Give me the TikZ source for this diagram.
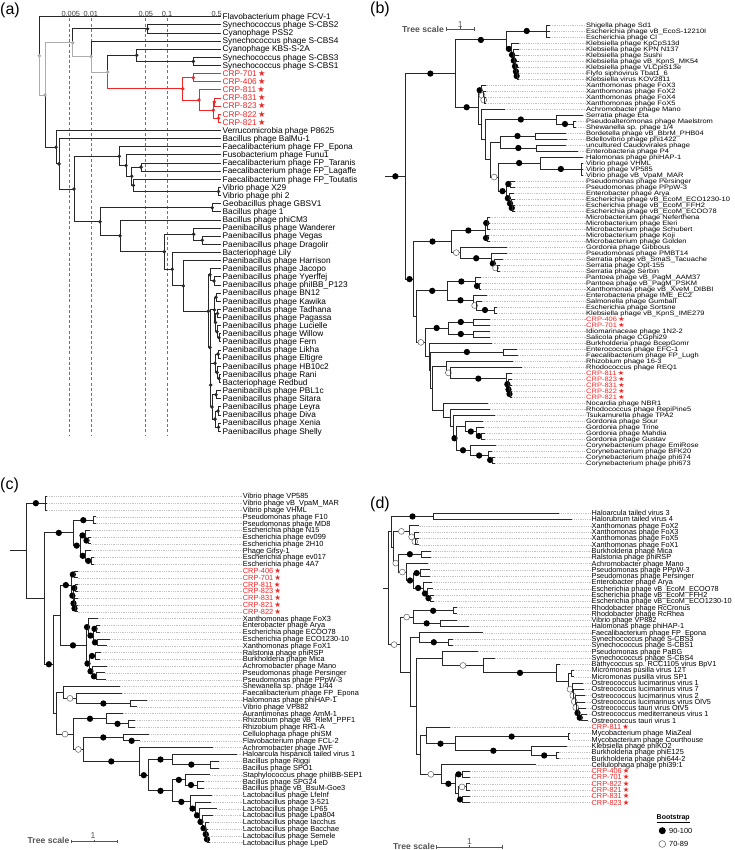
\documentclass[tikz,border=0pt]{standalone}
\usepackage{fontspec}
\usepackage{graphicx}
\setmainfont{Liberation Sans}
\newfontfamily\symf{DejaVu Sans}
\usetikzlibrary{calc}
\definecolor{cline}{RGB}{40,40,40}
\definecolor{cgray}{RGB}{172,172,172}
\definecolor{cred}{RGB}{240,38,38}
\definecolor{clead}{RGB}{195,195,195}
\definecolor{copen}{RGB}{105,105,105}
\definecolor{cts}{RGB}{85,85,85}
\definecolor{cdash}{RGB}{115,115,115}
\newcommand\crp[1]{\textcolor{cred}{CRP-#1\hspace{0.15em}{\symf\char"2605}}}
\newcommand\labwrap[1]{#1}
\newcommand\Kids[3]{\foreach \kk in {#3}{\draw[#1] (#2) |- (\kk);}}
\newcommand\Bt[2]{\Kids{brl}{#1}{#2}}
\newcommand\Bf[2]{\draw[brl] (#1) |- (#2);\node[fm] (m#2) at ($(#1 |- #2)!0.5!(#2)$) {};}
\newcommand\Bo[2]{\draw[brl] (#1) |- (#2);\node[om] (m#2) at ($(#1 |- #2)!0.5!(#2)$) {};}
\newcommand\T[4]{\coordinate (#1) at (#2,#3);\node[lab] (l#1) at (\labx,#3) {\labwrap{#4}};\draw[lead] (#1) -- (l#1.west);}
\newcommand\TA[2]{\coordinate (a#1) at (220.5,#1);\node[lab] (la#1) at (222.5,#1) {#2};}
\tikzset{
 brl/.style={draw=cline,line width=0.9pt},
 ak/.style={draw=cline,line width=0.9pt},
 ag/.style={draw=cgray,line width=0.9pt},
 ar/.style={draw=cred,line width=0.9pt},
 amk/.style={circle,inner sep=0pt,minimum size=3.8pt,draw=none},
 fm/.style={circle,inner sep=0pt,minimum size=6.3pt,fill=black,draw=none},
 om/.style={circle,inner sep=0pt,minimum size=5.9pt,fill=white,draw=copen,line width=0.55pt},
 lead/.style={draw=clead,line width=0.45pt,dash pattern=on 0.9pt off 0.9pt},
 plab/.style={anchor=west,inner sep=0pt,font=\fontsize{16}{16}\selectfont},
 tsl/.style={anchor=east,inner sep=0pt,text=cts,font=\bfseries\fontsize{8.6}{8.6}\selectfont},
 tsb/.style={draw=cts,line width=0.7pt},
 tsn/.style={inner sep=0pt,text=cts,font=\fontsize{8.6}{8.6}\selectfont},
 axl/.style={inner sep=0pt,text=black!75,font=\fontsize{7.4}{7.4}\selectfont},
 dashl/.style={draw=cdash,line width=0.8pt,dash pattern=on 3pt off 2.2pt},
}
\begin{document}
\begin{tikzpicture}[x=1pt,y=-1pt]
\useasboundingbox (0,0) rectangle (735,850);
\fill[white] (0,0) rectangle (735,850);
\node[plab] (pa) at (0,10) {(a)};
\node[plab] (pb) at (370,9.5) {(b)};
\node[plab] (pc) at (0,485.5) {(c)};
\node[plab] (pd) at (370,504) {(d)};

%================ (a)
\foreach \xx/\nm in {69.3/d1,91.7/d2,145/d3,167.3/d4}{\draw[dashl] (\xx,18.5) -- (\xx,436);}
\node[axl] (ax1) at (70.8,13.8) {0.005};
\node[axl] (ax2) at (90.8,13.8) {0.01};
\node[axl] (ax3) at (145.8,13.8) {0.05};
\node[axl] (ax4) at (167,13.8) {0.1};
\node[axl] (ax5) at (216.7,13.8) {0.5};
\begin{scope}[shift={(0,8.57)},y={(0pt,-8.13pt)},lab/.style={anchor=west,inner sep=0pt,font=\fontsize{8.3}{8.3}\selectfont,text height=5.6pt,text depth=0.1pt}]
\TA{1}{Flavobacterium phage FCV-1}
\TA{2}{Synechococcus phage S-CBS2}
\TA{3}{Cyanophage PSS2}
\TA{4}{Synechococcus phage S-CBS4}
\TA{5}{Cyanophage KBS-S-2A}
\TA{6}{Synechococcus phage S-CBS3}
\TA{7}{Synechococcus phage S-CBS1}
\TA{8}{\crp{701}}
\TA{9}{\crp{406}}
\TA{10}{\crp{811}}
\TA{11}{\crp{831}}
\TA{12}{\crp{823}}
\TA{13}{\crp{822}}
\TA{14}{\crp{821}}
\TA{15}{Verrucomicrobia phage P8625}
\TA{16}{Bacillus phage BalMu-1}
\TA{17}{Faecalibacterium phage FP\_Epona}
\TA{18}{Fusobacterium phage Funu1}
\TA{19}{Faecalibacterium phage FP\_Taranis}
\TA{20}{Faecalibacterium phage FP\_Lagaffe}
\TA{21}{Faecalibacterium phage FP\_Toutatis}
\TA{22}{Vibrio phage X29}
\TA{23}{Vibrio phage phi 2}
\TA{24}{Geobacillus phage GBSV1}
\TA{25}{Bacillus phage 1}
\TA{26}{Bacillus phage phiCM3}
\TA{27}{Paenibacillus phage Wanderer}
\TA{28}{Paenibacillus phage Vegas}
\TA{29}{Paenibacillus phage Dragolir}
\TA{30}{Bacteriophage Lily}
\TA{31}{Paenibacillus phage Harrison}
\TA{32}{Paenibacillus phage Jacopo}
\TA{33}{Paenibacillus phage Yyerffej}
\TA{34}{Paenibacillus phage phiIBB\_P123}
\TA{35}{Paenibacillus phage BN12}
\TA{36}{Paenibacillus phage Kawika}
\TA{37}{Paenibacillus phage Tadhana}
\TA{38}{Paenibacillus phage Pagassa}
\TA{39}{Paenibacillus phage Lucielle}
\TA{40}{Paenibacillus phage Willow}
\TA{41}{Paenibacillus phage Fern}
\TA{42}{Paenibacillus phage Likha}
\TA{43}{Paenibacillus phage Eltigre}
\TA{44}{Paenibacillus phage HB10c2}
\TA{45}{Paenibacillus phage Rani}
\TA{46}{Bacteriophage Redbud}
\TA{47}{Paenibacillus phage PBL1c}
\TA{48}{Paenibacillus phage Sitara}
\TA{49}{Paenibacillus phage Leyra}
\TA{50}{Paenibacillus phage Diva}
\TA{51}{Paenibacillus phage Xenia}
\TA{52}{Paenibacillus phage Shelly}
\coordinate (aR0) at (39.3,5.81);
\coordinate (aA1) at (45,10.63);
\coordinate (aC) at (72.7,4.203);
\coordinate (aC1) at (147.7,2.5);
\coordinate (aC2) at (91,5.906);
\coordinate (aC3) at (107.7,7.8125);
\coordinate (aC4) at (136.7,5.75);
\coordinate (aC5) at (193.3,6.5);
\coordinate (aRED) at (182.7,9.875);
\coordinate (aR1) at (193.3,8.5);
\coordinate (aR2) at (199,11.25);
\coordinate (aR3) at (213.3,12.5);
\coordinate (aR4) at (214.3,11.5);
\coordinate (aR5) at (218.5,13.5);
\coordinate (aL) at (56,17.05);
\coordinate (aL2) at (59,19.1);
\coordinate (aL3) at (74,22.19);
\coordinate (aF) at (119.3,18.16);
\coordinate (aF2) at (126,19.31);
\coordinate (aF3) at (131.7,20.625);
\coordinate (aFt) at (141,19.5);
\coordinate (aF5) at (133.3,21.75);
\coordinate (aFv) at (218.5,22.5);
\coordinate (aG) at (100,26.23);
\coordinate (aGeo) at (212.3,24.5);
\coordinate (aG2) at (120,27.95);
\coordinate (aG3) at (164.3,29.9);
\coordinate (aG4) at (193.7,27.75);
\coordinate (aG4b) at (202.3,28.5);
\coordinate (aG5) at (172.3,32.06);
\coordinate (aG6) at (183.3,34.11);
\coordinate (aG7) at (208.3,37.22);
\coordinate (aP1) at (210,32.75);
\coordinate (aP1a) at (214,33.5);
\coordinate (aP2) at (210,41.69);
\coordinate (aP2a) at (214.3,37.06);
\coordinate (aQ1) at (216,35.5);
\coordinate (aQ2) at (215.5,38.625);
\coordinate (aQ3) at (217.5,37.5);
\coordinate (aQ4) at (217,39.75);
\coordinate (aQ5) at (219,40.5);
\coordinate (aP2b) at (210.7,46.31);
\coordinate (aQ6) at (215,43.625);
\coordinate (aQ6a) at (218,42.5);
\coordinate (aQ6b) at (217,44.75);
\coordinate (aQ6c) at (219,45.5);
\coordinate (aQ7) at (212,49);
\coordinate (aQ7a) at (216,47.5);
\coordinate (aQ7b) at (215,50.5);
\coordinate (aQ7c) at (218,49.5);
\coordinate (aQ7d) at (218.5,51.5);
\Kids{ak}{aR0}{a1}
\Kids{ag}{aR0}{aA1}
\Kids{ak}{aA1}{aL}
\Kids{ag}{aA1}{aC}
\Kids{ak}{aC}{aC1}
\Kids{ak}{aC1}{a2,a3}
\Kids{ag}{aC}{aC2}
\Kids{ak}{aC2}{a4}
\Kids{ag}{aC2}{aC3}
\Kids{ak}{aC3}{aC4}
\Kids{ak}{aC4}{a5,aC5}
\Kids{ak}{aC5}{a6,a7}
\Kids{ar}{aC3}{aRED}
\Kids{ar}{aRED}{aR1,aR2}
\Kids{ar}{aR1}{a8,a9}
\Kids{ar}{aR2}{a10,aR3}
\Kids{ar}{aR3}{aR4,aR5}
\Kids{ar}{aR4}{a11,a12}
\Kids{ar}{aR5}{a13,a14}
\Kids{ak}{aL}{a15,aL2}
\Kids{ak}{aL2}{a16,aL3}
\Kids{ak}{aL3}{aF,aG}
\Kids{ak}{aF}{a17,aF2}
\Kids{ak}{aF2}{a18,aF3}
\Kids{ak}{aF3}{aFt,aF5}
\Kids{ak}{aFt}{a19,a20}
\Kids{ak}{aF5}{a21,aFv}
\Kids{ak}{aFv}{a22,a23}
\Kids{ak}{aG}{aGeo,aG2}
\Kids{ak}{aGeo}{a24,a25}
\Kids{ak}{aG2}{a26,aG3}
\Kids{ak}{aG3}{aG4,aG5}
\Kids{ak}{aG4}{a27,aG4b}
\Kids{ak}{aG4b}{a28,a29}
\Kids{ak}{aG5}{a30,aG6}
\Kids{ak}{aG6}{a31,aG7}
\Kids{ak}{aG7}{aP1,aP2}
\Kids{ak}{aP1}{a32,aP1a}
\Kids{ak}{aP1a}{a33,a34}
\Kids{ak}{aP2}{aP2a,aP2b}
\Kids{ak}{aP2a}{aQ1,aQ2}
\Kids{ak}{aQ1}{a35,a36}
\Kids{ak}{aQ2}{aQ3,aQ4}
\Kids{ak}{aQ3}{a37,a38}
\Kids{ak}{aQ4}{a39,aQ5}
\Kids{ak}{aQ5}{a40,a41}
\Kids{ak}{aP2b}{aQ6,aQ7}
\Kids{ak}{aQ6}{aQ6a,aQ6b}
\Kids{ak}{aQ6a}{a42,a43}
\Kids{ak}{aQ6b}{a44,aQ6c}
\Kids{ak}{aQ6c}{a45,a46}
\Kids{ak}{aQ7}{aQ7a,aQ7b}
\Kids{ak}{aQ7a}{a47,a48}
\Kids{ak}{aQ7b}{aQ7c,aQ7d}
\Kids{ak}{aQ7c}{a49,a50}
\Kids{ak}{aQ7d}{a51,a52}
\foreach \n in {aR0,aA1,aC,aC2,aC3}{\node[amk,fill=cgray] (m\n) at (\n) {};}
\foreach \n in {aRED,aR1,aR2,aR3,aR4,aR5}{\node[amk,fill=cred] (m\n) at (\n) {};}
\foreach \n in {aC1,aC4,aC5,aL,aL2,aL3,aF,aF2,aF3,aFt,aF5,aFv,aG,aGeo,aG2,aG3,aG4,aG4b,aG5,aG6,aG7,aP1,aP1a,aP2,aP2a,aQ1,aQ2,aQ3,aQ4,aQ5,aP2b,aQ6,aQ6a,aQ6b,aQ6c,aQ7,aQ7a,aQ7b,aQ7c,aQ7d}{\node[amk,fill=cline] (m\n) at (\n) {};}
\end{scope}

%================ (b)
\node[tsl] (tsb) at (444,29) {Tree scale};
\coordinate (tsb1) at (446.5,29.3); \coordinate (tsb2) at (474,29.3);
\draw[tsb] (tsb1) -- (tsb2);
\draw[tsb] ($(tsb1)+(0,-1.8)$) -- ($(tsb1)+(0,1.8)$) ($(tsb2)+(0,-1.8)$) -- ($(tsb2)+(0,1.8)$) ($(tsb1)!0.5!(tsb2)+(0,-1.8)$) -- ($(tsb1)!0.5!(tsb2)$);
\node[tsn] (tsbn) at (460.3,24.5) {1};
\begin{scope}[shift={(0,19)},y={(0pt,-6pt)},lab/.style={anchor=west,inner sep=0pt,font=\fontsize{7.5}{7.5}\selectfont,text height=4.6pt,text depth=0.1pt}]
\def\labx{586}
\renewcommand\labwrap[1]{\scalebox{1}[0.85]{#1}}
\T{b1}{550}{1}{Shigella phage Sd1}
\T{b2}{550}{2}{Escherichia phage vB\_EcoS-12210I}
\T{b3}{550}{3}{Escherichia phage Cl}
\T{b4}{518.5}{4}{Klebsiella phage KpCpS13d}
\T{b5}{518.5}{5}{Klebsiella phage KPN N137}
\T{b6}{518.5}{6}{Klebsiella phage Sushi}
\T{b7}{518.5}{7}{Klebsiella phage vB\_KpnS\_MK54}
\T{b8}{518.5}{8}{Klebsiella phage VLCpiS13e}
\T{b9}{518.5}{9}{Flyfo siphovirus Tbat1\_6}
\T{b10}{518.5}{10}{Klebsiella virus KOV2811}
\T{b11}{485.5}{11}{Xanthomonas phage FoX3}
\T{b12}{485.5}{12}{Xanthomonas phage FoX2}
\T{b13}{486}{13}{Xanthomonas phage FoX4}
\T{b14}{486}{14}{Xanthomonas phage FoX5}
\T{b15}{505}{15}{Achromobacter phage Mano}
\T{b16}{583.3}{16}{Serratia phage Eta}
\T{b17}{576}{17}{Pseudoalteromonas phage Maelstrom}
\T{b18}{576}{18}{Shewanella sp. phage 1/4}
\T{b19}{566}{19}{Bordetella phage vB\_BbrM\_PHB04}
\T{b20}{567}{20}{Bdellovibrio phage phi1422}
\T{b21}{566}{21}{uncultured Caudovirales phage}
\T{b22}{578}{22}{Enterobacteria phage P4}
\T{b23}{583.3}{23}{Halomonas phage phiHAP-1}
\T{b24}{583.3}{24}{Vibrio phage VHML}
\T{b25}{583.3}{25}{Vibrio phage VP585}
\T{b26}{583.3}{26}{Vibrio phage vB\_VpaM\_MAR}
\T{b27}{515}{27}{Pseudomonas phage Persinger}
\T{b28}{515}{28}{Pseudomonas phage PPpW-3}
\T{b29}{514}{29}{Enterobacter phage Arya}
\T{b30}{515}{30}{Escherichia phage vB\_EcoM\_ECO1230-10}
\T{b31}{515}{31}{Escherichia phage vB\_EcoM\_FFH2}
\T{b32}{515}{32}{Escherichia phage vB\_EcoM\_ECOO78}
\T{b33}{490}{33}{Microbacterium phage Neferthena}
\T{b34}{490}{34}{Microbacterium phage Eleri}
\T{b35}{490}{35}{Microbacterium phage Schubert}
\T{b36}{489}{36}{Microbacterium phage Koji}
\T{b37}{490}{37}{Microbacterium phage Golden}
\T{b38}{506.7}{38}{Gordonia phage Gibbous}
\T{b39}{506.7}{39}{Pseudomonas phage PMBT14}
\T{b40}{503}{40}{Serratia phage vB\_SmaS\_Tacuache}
\T{b41}{500}{41}{Serratia phage Opt-155}
\T{b42}{500}{42}{Serratia phage Serbin}
\T{b43}{481}{43}{Pantoea phage vB\_PagM\_AAM37}
\T{b44}{481}{44}{Pantoea phage vB\_PagM\_PSKM}
\T{b45}{481}{45}{Xanthomonas phage vB\_XveM\_DIBBI}
\T{b46}{487}{46}{Enterobacteria phage IME\_EC2}
\T{b47}{482}{47}{Salmonella phage Gumball}
\T{b48}{497}{48}{Escherichia phage Sortsne}
\T{b49}{497}{49}{Klebsiella phage vB\_KpnS\_IME279}
\T{b50}{490}{50}{\crp{406}}
\T{b51}{490}{51}{\crp{701}}
\T{b52}{490}{52}{Idiomarinaceae phage 1N2-2}
\T{b53}{490}{53}{Salicola phage CGphi29}
\T{b54}{491.7}{54}{Burkholderia phage BcepGomr}
\T{b55}{517}{55}{Enterococcus phage EFC-1}
\T{b56}{518}{56}{Faecalibacterium phage FP\_Lugh}
\T{b57}{513.3}{57}{Rhizobium phage 16-3}
\T{b58}{521.7}{58}{Rhodococcus phage REQ1}
\T{b59}{512}{59}{\crp{811}}
\T{b60}{512}{60}{\crp{823}}
\T{b61}{512}{61}{\crp{831}}
\T{b62}{512}{62}{\crp{822}}
\T{b63}{512}{63}{\crp{821}}
\T{b64}{488.3}{64}{Nocardia phage NBR1}
\T{b65}{490}{65}{Rhodococcus phage RepiPine5}
\T{b66}{495}{66}{Tsukamurella phage TPA2}
\T{b67}{483}{67}{Gordonia phage Sour}
\T{b68}{484}{68}{Gordonia phage Trine}
\T{b69}{485}{69}{Gordonia phage Mahdia}
\T{b70}{485}{70}{Gordonia phage Gustav}
\T{b71}{496}{71}{Corynebacterium phage EmiRose}
\T{b72}{492}{72}{Corynebacterium phage BFK20}
\T{b73}{495}{73}{Corynebacterium phage phi674}
\T{b74}{495}{74}{Corynebacterium phage phi673}
\coordinate (bRs) at (385,26.22);
\coordinate (bR) at (405.7,26.22);
\coordinate (bB1) at (455,9.10);
\coordinate (bB2) at (506.7,3.49);
\coordinate (bS) at (546.7,2);
\coordinate (bK) at (511,4.984);
\coordinate (bK1) at (513,5.969);
\coordinate (bK2) at (514.5,6.9375);
\coordinate (bK3) at (515.5,7.875);
\coordinate (bK4) at (516.3,8.75);
\coordinate (bK5) at (517,9.5);
\coordinate (bB3) at (478.3,14.71);
\coordinate (bX) at (481,11.875);
\coordinate (bX1) at (483,12.75);
\coordinate (bX2) at (484.3,13.5);
\coordinate (bB3c) at (481.5,17.54);
\coordinate (bB3b) at (485,20.09);
\coordinate (bSe0) at (556.7,16.75);
\coordinate (bSe1) at (573.3,17.5);
\coordinate (bB3d) at (490,23.42);
\coordinate (bD) at (500,20.5);
\coordinate (bDa) at (535,19.5);
\coordinate (bDb) at (536.7,21.5);
\coordinate (bB3e) at (498.3,26.34);
\coordinate (bV) at (540,24);
\coordinate (bVv) at (581.7,25);
\coordinate (bE) at (506.7,28.69);
\coordinate (bE1) at (510,27.5);
\coordinate (bE2) at (509,29.875);
\coordinate (bE3) at (511,30.75);
\coordinate (bE4) at (512.5,31.5);
\coordinate (bB4) at (413.3,43.35);
\coordinate (bM) at (451.7,37.09);
\coordinate (bMi) at (485,35.25);
\coordinate (bMi1) at (487.5,34);
\coordinate (bMi2) at (487,36.5);
\coordinate (bG2) at (460.7,38.94);
\coordinate (bG3) at (491.7,39.875);
\coordinate (bSr) at (494,40.75);
\coordinate (bSr1) at (497,41.5);
\coordinate (bB6) at (416.7,49.6);
\coordinate (bP) at (447.7,45.31);
\coordinate (bPa) at (475,43.75);
\coordinate (bPa1) at (479,44.5);
\coordinate (bPb) at (473.3,46.875);
\coordinate (bPb1) at (476,47.75);
\coordinate (bPb2) at (494,48.5);
\coordinate (bC) at (425,53.89);
\coordinate (bCr) at (448.3,51.5);
\coordinate (bCRa) at (473.3,50.5);
\coordinate (bCRb) at (473.3,52.5);
\coordinate (bC2) at (429.3,56.28);
\coordinate (bC3) at (430.5,58.55);
\coordinate (bEF) at (503.3,55.5);
\coordinate (bC3b) at (432,61.61);
\coordinate (bC4) at (446.7,57.98);
\coordinate (bC5) at (450,58.97);
\coordinate (bCRP) at (506.7,59.94);
\coordinate (bCR1) at (508,60.875);
\coordinate (bCR2) at (509,61.75);
\coordinate (bCR3) at (510,62.5);
\coordinate (bL) at (443.3,65.23);
\coordinate (bL1) at (450,66.47);
\coordinate (bL2) at (453,67.94);
\coordinate (bL3) at (456,69.875);
\coordinate (bGo) at (465,67.875);
\coordinate (bGo1) at (476.7,68.75);
\coordinate (bGo2) at (481,69.5);
\coordinate (bCo) at (470,71.875);
\coordinate (bCo1) at (488.3,72.75);
\coordinate (bCo2) at (492,73.5);
\Bf{bRs}{bR}
\Bf{bR}{bB1} \Bf{bR}{bB4}
\Bf{bB1}{bB2} \Bf{bB1}{bB3}
\Bf{bB2}{bS} \Bt{bS}{b1,b2,b3}
\Bf{bB2}{bK} \Bt{bK}{b4} \Bf{bK}{bK1} \Bt{bK1}{b5} \Bf{bK1}{bK2} \Bt{bK2}{b6} \Bf{bK2}{bK3} \Bt{bK3}{b7} \Bf{bK3}{bK4} \Bt{bK4}{b8} \Bf{bK4}{bK5} \Bt{bK5}{b9,b10}
\Bf{bB3}{bX} \Bt{bX}{b11} \Bo{bX}{bX1} \Bt{bX1}{b12} \Bo{bX1}{bX2} \Bt{bX2}{b13,b14}
\Bt{bB3}{bB3c} \Bt{bB3c}{b15,bB3b}
\Bf{bB3b}{bSe0} \Bt{bSe0}{b16} \Bf{bSe0}{bSe1} \Bt{bSe1}{b17,b18}
\Bt{bB3b}{bB3d} \Bt{bB3d}{bD} \Bf{bD}{bDa} \Bt{bDa}{b19,b20} \Bf{bD}{bDb} \Bt{bDb}{b21,b22}
\Bo{bB3d}{bB3e} \Bf{bB3e}{bV} \Bt{bV}{b23} \Bf{bV}{bVv} \Bt{bVv}{b24,b25,b26}
\Bf{bB3e}{bE} \Bf{bE}{bE1} \Bt{bE1}{b27,b28} \Bf{bE}{bE2} \Bt{bE2}{b29} \Bf{bE2}{bE3} \Bt{bE3}{b30} \Bf{bE3}{bE4} \Bt{bE4}{b31,b32}
\Bf{bB4}{bM} \Bf{bM}{bMi} \Bf{bMi}{bMi1} \Bt{bMi1}{b33,b34,b35} \Bf{bMi}{bMi2} \Bt{bMi2}{b36,b37}
\Bo{bM}{bG2} \Bt{bG2}{b38} \Bf{bG2}{bG3} \Bt{bG3}{b39} \Bf{bG3}{bSr} \Bt{bSr}{b40} \Bo{bSr}{bSr1} \Bt{bSr1}{b41,b42}
\Bt{bB4}{bB6} \Bf{bB6}{bP} \Bf{bP}{bPa} \Bt{bPa}{b43} \Bf{bPa}{bPa1} \Bt{bPa1}{b44,b45}
\Bf{bP}{bPb} \Bt{bPb}{b46} \Bo{bPb}{bPb1} \Bt{bPb1}{b47} \Bf{bPb1}{bPb2} \Bt{bPb2}{b48,b49}
\Bo{bB6}{bC} \Bf{bC}{bCr} \Bf{bCr}{bCRa} \Bt{bCRa}{b50,b51} \Bf{bCr}{bCRb} \Bt{bCRb}{b52,b53}
\Bt{bC}{bC2} \Bt{bC2}{b54,bC3} \Bf{bC3}{bEF} \Bt{bEF}{b55,b56} \Bt{bC3}{bC3b} \Bt{bC3b}{bC4} \Bt{bC4}{b57} \Bo{bC4}{bC5} \Bt{bC5}{b58}
\Bf{bC5}{bCRP} \Bt{bCRP}{b59} \Bf{bCRP}{bCR1} \Bt{bCR1}{b60} \Bf{bCR1}{bCR2} \Bt{bCR2}{b61} \Bf{bCR2}{bCR3} \Bt{bCR3}{b62,b63}
\Bt{bC3b}{bL} \Bt{bL}{b64,bL1} \Bt{bL1}{b65,bL2} \Bt{bL2}{b66} \Bf{bL2}{bL3}
\Bt{bL3}{bGo} \Bt{bGo}{b67} \Bf{bGo}{bGo1} \Bt{bGo1}{b68} \Bf{bGo1}{bGo2} \Bt{bGo2}{b69,b70}
\Bf{bL3}{bCo} \Bt{bCo}{b71} \Bf{bCo}{bCo1} \Bt{bCo1}{b72} \Bf{bCo1}{bCo2} \Bt{bCo2}{b73,b74}
\end{scope}

%================ (c)
\node[tsl] (tsc) at (69.5,840.7) {Tree scale};
\coordinate (tsc1) at (71,841.5); \coordinate (tsc2) at (117.3,841.5);
\draw[tsb] (tsc1) -- (tsc2);
\draw[tsb] ($(tsc1)+(0,-1.8)$) -- ($(tsc1)+(0,1.8)$) ($(tsc2)+(0,-1.8)$) -- ($(tsc2)+(0,1.8)$) ($(tsc1)!0.5!(tsc2)+(0,-1.8)$) -- ($(tsc1)!0.5!(tsc2)$);
\node[tsn] (tscn) at (93,836) {1};
\begin{scope}[shift={(0,489.6)},y={(0pt,-6.79pt)},lab/.style={anchor=west,inner sep=0pt,font=\fontsize{7.4}{7.4}\selectfont,text height=5.0pt,text depth=0.1pt}]
\def\labx{242.7}
\T{c1}{47}{1}{Vibrio phage VP585}
\T{c2}{47}{2}{Vibrio phage vB\_VpaM\_MAR}
\T{c3}{47}{3}{Vibrio phage VHML}
\T{c4}{95.5}{4}{Pseudomonas phage F10}
\T{c5}{95.5}{5}{Pseudomonas phage MD8}
\T{c6}{89.5}{6}{Escherichia phage N15}
\T{c7}{91}{7}{Escherichia phage ev099}
\T{c8}{91}{8}{Escherichia phage 2H10}
\T{c9}{90.5}{9}{Phage Gifsy-1}
\T{c10}{93.5}{10}{Escherichia phage ev017}
\T{c11}{93.5}{11}{Escherichia phage 4A7}
\T{c12}{77.5}{12}{\crp{406}}
\T{c13}{77.5}{13}{\crp{701}}
\T{c14}{77.5}{14}{\crp{811}}
\T{c15}{77.5}{15}{\crp{823}}
\T{c16}{77.5}{16}{\crp{831}}
\T{c17}{77.5}{17}{\crp{821}}
\T{c18}{77.5}{18}{\crp{822}}
\T{c19}{98}{19}{Xanthomonas phage FoX3}
\T{c20}{100}{20}{Enterobacter phage Arya}
\T{c21}{100}{21}{Escherichia phage ECOO78}
\T{c22}{110}{22}{Escherichia phage ECO1230-10}
\T{c23}{107}{23}{Xanthomonas phage FoX1}
\T{c24}{101}{24}{Ralstonia phage phiRSP}
\T{c25}{100}{25}{Burkholderia phage Mica}
\T{c26}{107}{26}{Achromobacter phage Mano}
\T{c27}{105}{27}{Pseudomonas phage Persinger}
\T{c28}{106}{28}{Pseudomonas phage PPpW-3}
\T{c29}{120}{29}{Shewanella sp. phage 1/44}
\T{c30}{121.7}{30}{Faecalibacterium phage FP\_Epona}
\T{c31}{147}{31}{Halomonas phage phiHAP-1}
\T{c32}{137}{32}{Vibrio phage VP882}
\T{c33}{122.7}{33}{Aurantimonas phage AmM-1}
\T{c34}{135}{34}{Rhizobium phage vB\_RleM\_PPF1}
\T{c35}{135}{35}{Rhizobium phage RR1-A}
\T{c36}{149.3}{36}{Cellulophaga phage phiSM}
\T{c37}{140}{37}{Flavobacterium phage FCL-2}
\T{c38}{213.3}{38}{Achromobacter phage JWF}
\T{c39}{236.7}{39}{Haloarcula hispanica tailed virus 1}
\T{c40}{219.3}{40}{Bacillus phage Riggi}
\T{c41}{219.3}{41}{Bacillus phage SPO1}
\T{c42}{210}{42}{Staphylococcus phage phiIBB-SEP1}
\T{c43}{204}{43}{Bacillus phage SPG24}
\T{c44}{204}{44}{Bacillus phage vB\_BsuM-Goe3}
\T{c45}{212}{45}{Lactobacillus phage LfeInf}
\T{c46}{210.7}{46}{Lactobacillus phage 3-521}
\T{c47}{216.7}{47}{Lactobacillus phage LP65}
\T{c48}{213.3}{48}{Lactobacillus phage Lpa804}
\T{c49}{209.3}{49}{Lactobacillus phage Iacchus}
\T{c50}{208.3}{50}{Lactobacillus phage Bacchae}
\T{c51}{208.7}{51}{Lactobacillus phage Semele}
\T{c52}{210}{52}{Lactobacillus phage LpeD}
\coordinate (cRs) at (10,9.02);
\coordinate (cR) at (26.7,9.02);
\coordinate (cVi) at (45,2);
\coordinate (cR2) at (44.3,16.05);
\coordinate (cA) at (73.3,6.375);
\coordinate (cF) at (93.3,4.5);
\coordinate (cEs) at (80,8.25);
\coordinate (cEs1) at (85,6.75);
\coordinate (cEs1b) at (88,7.5);
\coordinate (cEs2) at (85.5,9.75);
\coordinate (cEs2b) at (91,10.5);
\coordinate (cR3) at (53.5,25.72);
\coordinate (cR3a) at (60,18.5);
\coordinate (cCRP) at (71.7,14.06);
\coordinate (cC1) at (74,12.5);
\coordinate (cC2) at (73,15.625);
\coordinate (cC3) at (75.5,14.5);
\coordinate (cC4) at (74,16.75);
\coordinate (cC5) at (75,17.5);
\coordinate (cXa) at (86,22.94);
\coordinate (cXa1) at (88,20.25);
\coordinate (cXa1b) at (93,21.5);
\coordinate (cXa1c) at (96,20.5);
\coordinate (cXa1d) at (97,22.5);
\coordinate (cXa2) at (89,25.625);
\coordinate (cXa2a) at (95,24.5);
\coordinate (cXa2b) at (92,26.75);
\coordinate (cXa2c) at (96,27.5);
\coordinate (cR4) at (56.7,32.94);
\coordinate (cR5) at (63.3,29.875);
\coordinate (cFH) at (76.7,30.75);
\coordinate (cHV) at (130,31.5);
\coordinate (cR6) at (73.3,36.01);
\coordinate (cRh) at (106.7,33.75);
\coordinate (cRh2) at (128.3,34.5);
\coordinate (cR7) at (83.3,38.27);
\coordinate (cCf) at (123.3,36.5);
\coordinate (cBb) at (139.3,40.03);
\coordinate (cBc) at (148.3,42.06);
\coordinate (cBd) at (172.7,39.75);
\coordinate (cBd2) at (210,40.5);
\coordinate (cBe) at (172.7,44.37);
\coordinate (cBs) at (185,42.75);
\coordinate (cBg) at (197,43.5);
\coordinate (cLc) at (190,45.99);
\coordinate (cL2) at (195,46.98);
\coordinate (cL3) at (199,47.97);
\coordinate (cL4) at (202,48.94);
\coordinate (cL5) at (205,49.875);
\coordinate (cL6) at (206.5,50.75);
\coordinate (cL7) at (207.5,51.5);
\Bt{cRs}{cR}
\Bf{cR}{cVi} \Bt{cVi}{c1,c2,c3}
\Bt{cR}{cR2}
\Bf{cR2}{cA} \Bf{cA}{cF} \Bt{cF}{c4,c5} \Bf{cA}{cEs} \Bf{cEs}{cEs1} \Bt{cEs1}{c6} \Bf{cEs1}{cEs1b} \Bt{cEs1b}{c7,c8} \Bf{cEs}{cEs2} \Bt{cEs2}{c9} \Bf{cEs2}{cEs2b} \Bt{cEs2b}{c10,c11}
\Bf{cR2}{cR3} \Bt{cR3}{cR3a} \Bf{cR3a}{cCRP} \Bf{cCRP}{cC1} \Bt{cC1}{c12,c13} \Bf{cCRP}{cC2} \Bf{cC2}{cC3} \Bt{cC3}{c14,c15} \Bf{cC2}{cC4} \Bt{cC4}{c16} \Bf{cC4}{cC5} \Bt{cC5}{c17,c18}
\Bf{cR3a}{cXa} \Bf{cXa}{cXa1} \Bt{cXa1}{c19} \Bf{cXa1}{cXa1b} \Bf{cXa1b}{cXa1c} \Bt{cXa1c}{c20,c21} \Bf{cXa1b}{cXa1d} \Bt{cXa1d}{c22,c23}
\Bf{cXa}{cXa2} \Bf{cXa2}{cXa2a} \Bt{cXa2a}{c24,c25} \Bf{cXa2}{cXa2b} \Bt{cXa2b}{c26} \Bf{cXa2b}{cXa2c} \Bt{cXa2c}{c27,c28}
\Bt{cR3}{cR4} \Bt{cR4}{cR5} \Bt{cR5}{c29} \Bo{cR5}{cFH} \Bt{cFH}{c30} \Bf{cFH}{cHV} \Bt{cHV}{c31,c32}
\Bo{cR4}{cR6} \Bf{cR6}{cRh} \Bt{cRh}{c33} \Bf{cRh}{cRh2} \Bt{cRh2}{c34,c35}
\Bo{cR6}{cR7} \Bf{cR7}{cCf} \Bt{cCf}{c36} \Bf{cCf}{c37}
\Bf{cR7}{cBb} \Bt{cBb}{c38} \Bf{cBb}{cBc} \Bf{cBc}{cBd} \Bt{cBd}{c39} \Bf{cBd}{cBd2} \Bt{cBd2}{c40,c41}
\Bf{cBc}{cBe} \Bf{cBe}{cBs} \Bt{cBs}{c42} \Bf{cBs}{cBg} \Bt{cBg}{c43,c44}
\Bf{cBe}{cLc} \Bt{cLc}{c45} \Bf{cLc}{cL2} \Bt{cL2}{c46} \Bf{cL2}{cL3} \Bt{cL3}{c47} \Bf{cL3}{cL4} \Bt{cL4}{c48} \Bf{cL4}{cL5} \Bt{cL5}{c49} \Bf{cL5}{cL6} \Bt{cL6}{c50} \Bf{cL6}{cL7} \Bt{cL7}{c51,c52}
\end{scope}

%================ (d)
\node[tsl] (tsd) at (435,846.7) {Tree scale};
\coordinate (tsd1) at (436.7,847.2); \coordinate (tsd2) at (502.7,847.2);
\draw[tsb] (tsd1) -- (tsd2);
\draw[tsb] ($(tsd1)+(0,-1.8)$) -- ($(tsd1)+(0,1.8)$) ($(tsd2)+(0,-1.8)$) -- ($(tsd2)+(0,1.8)$) ($(tsd1)!0.5!(tsd2)+(0,-1.8)$) -- ($(tsd1)!0.5!(tsd2)$);
\node[tsn] (tsdn) at (469.5,841.5) {1};
\node[anchor=west,inner sep=0pt,font=\bfseries\fontsize{7}{7}\selectfont] (lgt) at (656.5,818.5) {\underline{Bootstrap}};
\node[fm,minimum size=7pt] (lgf) at (662.3,830.7) {};
\node[anchor=west,inner sep=0pt,font=\fontsize{7.4}{7.4}\selectfont] (lgft) at (669,830.7) {90-100};
\node[om,minimum size=6.8pt] (lgo) at (662.3,844) {};
\node[anchor=west,inner sep=0pt,font=\fontsize{7.4}{7.4}\selectfont] (lgot) at (669,844) {70-89};
\begin{scope}[shift={(0,507)},y={(0pt,-6.29pt)},lab/.style={anchor=west,inner sep=0pt,font=\fontsize{7.3}{7.3}\selectfont,text height=4.9pt,text depth=0.1pt}]
\def\labx{591.5}
\T{d1}{559.3}{1}{Haloarcula tailed virus 3}
\T{d2}{572.3}{2}{Halorubrum tailed virus 4}
\T{d3}{418.5}{3}{Xanthomonas phage FoX2}
\T{d4}{418.5}{4}{Xanthomonas phage FoX3}
\T{d5}{418.5}{5}{Xanthomonas phage FoX5}
\T{d6}{418.5}{6}{Xanthomonas phage FoX1}
\T{d7}{431}{7}{Burkholderia phage Mica}
\T{d8}{431}{8}{Ralstonia phage phiRSP}
\T{d9}{428.3}{9}{Achromobacter phage Mano}
\T{d10}{430}{10}{Pseudomonas phage PPpW-3}
\T{d11}{430}{11}{Pseudomonas phage Persinger}
\T{d12}{432}{12}{Enterobacter phage Arya}
\T{d13}{433}{13}{Escherichia phage vB\_EcoM\_ECOO78}
\T{d14}{434}{14}{Escherichia phage vB\_EcoM\_FFH2}
\T{d15}{434}{15}{Escherichia phage vB\_EcoM\_ECO1230-10}
\T{d16}{457}{16}{Rhodobacter phage RcCronus}
\T{d17}{457}{17}{Rhodobacter phage RcRhea}
\T{d18}{457.3}{18}{Vibrio phage VP882}
\T{d19}{469.3}{19}{Halomonas phage phiHAP-1}
\T{d20}{483.3}{20}{Faecalibacterium phage FP\_Epona}
\T{d21}{453}{21}{Synechococcus phage S-CBS3}
\T{d22}{453}{22}{Synechococcus phage S-CBS1}
\T{d23}{478.3}{23}{Pseudomonas phage PaBG}
\T{d24}{495}{24}{Synechococcus phage S-CBS4}
\T{d25}{560}{25}{Bathycoccus sp. RCC1105 virus BpV1}
\T{d26}{574}{26}{Micromonas pusilla virus 12T}
\T{d27}{574}{27}{Micromonas pusilla virus SP1}
\T{d28}{583}{28}{Ostreococcus lucimarinus virus 1}
\T{d29}{584}{29}{Ostreococcus lucimarinus virus 7}
\T{d30}{584.5}{30}{Ostreococcus lucimarinus virus 2}
\T{d31}{585}{31}{Ostreococcus lucimarinus virus OlV5}
\T{d32}{586}{32}{Ostreococcus tauri virus OtV5}
\T{d33}{587}{33}{Ostreococcus mediterraneus virus 1}
\T{d34}{588}{34}{Ostreococcus tauri virus 1}
\T{d35}{450}{35}{\crp{811}}
\T{d36}{570}{36}{Mycobacterium phage MiaZeal}
\T{d37}{570}{37}{Mycobacterium phage Courthouse}
\T{d38}{566.7}{38}{Klebsiella phage phiKO2}
\T{d39}{558.5}{39}{Burkholderia phage phiE125}
\T{d40}{558.5}{40}{Burkholderia phage phi644-2}
\T{d41}{535.7}{41}{Cellulophaga phage phi39:1}
\T{d42}{470}{42}{\crp{406}}
\T{d43}{470}{43}{\crp{701}}
\T{d44}{470}{44}{\crp{822}}
\T{d45}{470}{45}{\crp{821}}
\T{d46}{470}{46}{\crp{831}}
\T{d47}{470}{47}{\crp{823}}
\coordinate (dRs) at (383,12.91);
\coordinate (dD0) at (388.3,12.91);
\coordinate (dD1) at (391.7,3.95);
\coordinate (dHa) at (433.3,1.5);
\coordinate (dD1b) at (393.5,6.40);
\coordinate (dXn) at (409.3,3.875);
\coordinate (dXn1) at (414,4.75);
\coordinate (dXn2) at (415.5,5.5);
\coordinate (dU1) at (398,8.92);
\coordinate (dBR) at (421.7,7.5);
\coordinate (dPs) at (406.7,10.34);
\coordinate (dPs2) at (413.3,11.69);
\coordinate (dPP) at (420,10.5);
\coordinate (dEE) at (423,12.875);
\coordinate (dEE1) at (427,13.75);
\coordinate (dEE2) at (430,14.5);
\coordinate (dE1) at (400,21.875);
\coordinate (dRV) at (413.3,17.5);
\coordinate (dRb) at (453,16.5);
\coordinate (dVH) at (440,18.5);
\coordinate (dN3) at (410.7,26.25);
\coordinate (dFS) at (419.3,20.75);
\coordinate (dSC) at (448.3,21.5);
\coordinate (dN3b) at (416,31.75);
\coordinate (dSB) at (442.7,24.09);
\coordinate (dSB2) at (483.3,25.19);
\coordinate (dOst) at (556.7,26.37);
\coordinate (dO2) at (568,27.74);
\coordinate (dMi) at (571,26.5);
\coordinate (dO3) at (572,28.98);
\coordinate (dO4) at (573.5,29.97);
\coordinate (dO5) at (575,30.94);
\coordinate (dO6) at (576.5,31.875);
\coordinate (dO7) at (578.5,32.75);
\coordinate (dO8) at (581,33.5);
\coordinate (dN4) at (420,39.41);
\coordinate (dN811) at (426,36.31);
\coordinate (dMy) at (455,37.63);
\coordinate (dMC) at (568.3,36.5);
\coordinate (dKB) at (531.7,38.75);
\coordinate (dBP) at (556.7,39.5);
\coordinate (dCel) at (441.7,42.5);
\coordinate (dCR) at (455,44);
\coordinate (dCRa) at (462,42.5);
\coordinate (dCRb) at (458,45.5);
\coordinate (dCRc) at (466,44.5);
\coordinate (dCRd) at (462,46.5);
\Bt{dRs}{dD0} \Bt{dD0}{dD1}
\Bf{dD1}{dHa} \Bt{dHa}{d1,d2}
\Bt{dD1}{dD1b} \Bo{dD1b}{dXn} \Bt{dXn}{d3} \Bo{dXn}{dXn1} \Bt{dXn1}{d4} \Bo{dXn1}{dXn2} \Bt{dXn2}{d5,d6}
\Bo{dD1b}{dU1} \Bf{dU1}{dBR} \Bt{dBR}{d7,d8} \Bo{dU1}{dPs} \Bt{dPs}{d9} \Bf{dPs}{dPs2} \Bf{dPs2}{dPP} \Bt{dPP}{d10,d11}
\Bf{dPs2}{dEE} \Bt{dEE}{d12} \Bf{dEE}{dEE1} \Bt{dEE1}{d13} \Bf{dEE1}{dEE2} \Bt{dEE2}{d14,d15}
\Bo{dD0}{dE1} \Bo{dE1}{dRV} \Bf{dRV}{dRb} \Bt{dRb}{d16,d17} \Bf{dRV}{dVH} \Bt{dVH}{d18,d19}
\Bt{dE1}{dN3} \Bt{dN3}{dFS} \Bt{dFS}{d20} \Bf{dFS}{dSC} \Bt{dSC}{d21,d22}
\Bt{dN3}{dN3b} \Bt{dN3b}{dSB} \Bt{dSB}{d23} \Bo{dSB}{dSB2} \Bt{dSB2}{d24} \Bf{dSB2}{dOst} \Bt{dOst}{d25} \Bt{dOst}{dO2} \Bt{dO2}{dMi} \Bt{dMi}{d26,d27}
\Bo{dO2}{dO3} \Bt{dO3}{d28} \Bo{dO3}{dO4} \Bt{dO4}{d29} \Bo{dO4}{dO5} \Bt{dO5}{d30} \Bo{dO5}{dO6} \Bt{dO6}{d31} \Bf{dO6}{dO7} \Bt{dO7}{d32} \Bf{dO7}{dO8} \Bt{dO8}{d33,d34}
\Bt{dN3b}{dN4} \Bt{dN4}{dN811} \Bt{dN811}{d35} \Bf{dN811}{dMy} \Bf{dMy}{dMC} \Bt{dMC}{d36,d37} \Bf{dMy}{dKB} \Bt{dKB}{d38} \Bf{dKB}{dBP} \Bt{dBP}{d39,d40}
\Bo{dN4}{dCel} \Bt{dCel}{d41} \Bf{dCel}{dCR} \Bf{dCR}{dCRa} \Bt{dCRa}{d42,d43} \Bt{dCR}{dCRb} \Bo{dCRb}{dCRc} \Bt{dCRc}{d44,d45} \Bf{dCRb}{dCRd} \Bt{dCRd}{d46,d47}
\end{scope}
\end{tikzpicture}
\end{document}
